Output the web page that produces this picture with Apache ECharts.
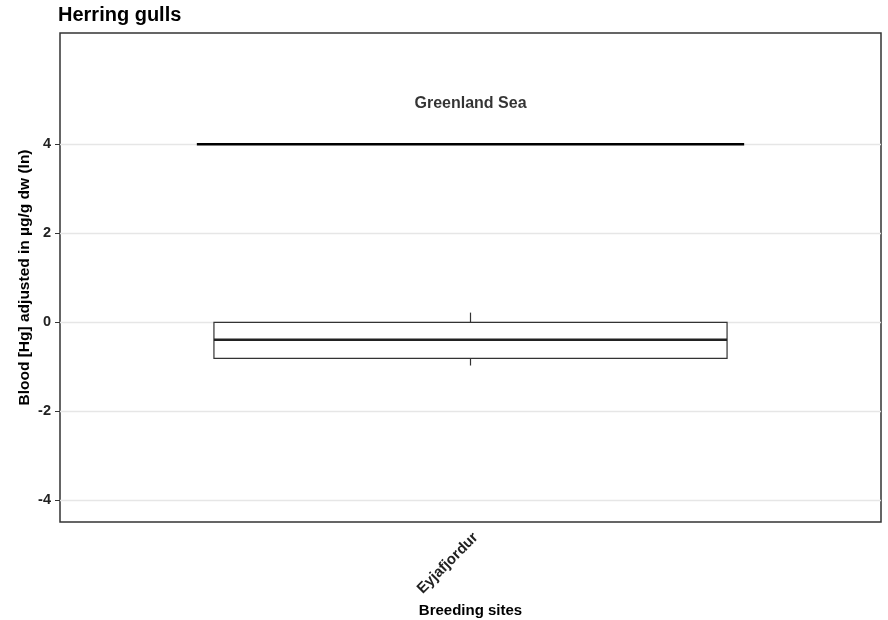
<!DOCTYPE html>
<html><head><meta charset="utf-8">
<script src="https://cdn.jsdelivr.net/npm/echarts@6/dist/echarts.min.js"></script>
<style>html,body{margin:0;padding:0;background:#fff}#c{width:888px;height:620px}</style>
</head><body><div id="c"></div>
<script>
// ---- data ----
const categories = ['Eyjafjordur'];
// per category: [lower whisker, Q1, median, Q3, upper whisker]
const boxMin = [-0.98];
const boxQ1 = [-0.82];
const boxMedian = [-0.40];
const boxQ3 = [-0.01];
const boxMax = [0.21];
const yTicks = [-4, -2, 0, 2, 4];
const refLineY = 4;
const refLineX = [0.6, 1.4];
const annotationText = 'Greenland Sea';
const annotationPos = [1, 4.92];

const FONT = '"Liberation Sans", Arial, Helvetica, sans-serif';
const boxData = categories.map((c, i) => [i + 1, boxMin[i], boxQ1[i], boxMedian[i], boxQ3[i], boxMax[i]]);

const chart = echarts.init(document.getElementById('c'), null, {renderer: 'canvas'});
chart.setOption({
  backgroundColor: '#fff',
  animation: false,
  title: {
    text: 'Herring gulls', left: 53, top: 0,
    textStyle: {fontFamily: FONT, fontSize: 20, fontWeight: 'bold', color: '#000'}
  },
  grid: {left: 60, right: 7, top: 33, bottom: 98, outerBoundsMode: 'none', containLabel: false,
         show: true, borderColor: '#333', borderWidth: 1.5, backgroundColor: '#fff'},
  xAxis: {
    type: 'value', min: 0.4, max: 1.6,
    name: 'Breeding sites', nameLocation: 'middle', nameGap: 81,
    nameTextStyle: {fontFamily: FONT, fontSize: 15, fontWeight: 'bold', color: '#000'},
    axisLine: {show: false},
    axisTick: {show: true, length: 5, lineStyle: {color: '#333'}, customValues: categories.map((c, i) => i + 1)},
    axisLabel: {
      customValues: categories.map((c, i) => i + 1),
      formatter: v => categories[Math.round(v) - 1] || '',
      rotate: 45, margin: 8, verticalAlign: 'top',
      fontFamily: FONT, fontSize: 15, fontWeight: 'bold', color: '#222'
    },
    splitLine: {show: false}
  },
  yAxis: {
    type: 'value', min: -4.5, max: 6.5,
    name: 'Blood [Hg] adjusted in µg/g dw (ln)', nameLocation: 'middle', nameGap: 27, nameRotate: 90,
    nameMoveOverlap: false,
    nameTextStyle: {fontFamily: FONT, fontSize: 15.5, fontWeight: 'bold', color: '#000'},
    axisLine: {show: false},
    axisTick: {show: true, length: 5, lineStyle: {color: '#333'}, customValues: yTicks},
    axisLabel: {customValues: yTicks, margin: 9, fontFamily: FONT, fontSize: 14.5, fontWeight: 'bold', color: '#222'},
    splitLine: {show: true, lineStyle: {color: '#e6e6e6', width: 1.3}}
  },
  series: [
    {
      type: 'custom',
      data: boxData,
      encode: {x: 0, y: [1, 2, 3, 4, 5]},
      silent: true,
      renderItem: function (params, api) {
        const x = api.value(0);
        const lo = api.value(1), q1 = api.value(2), med = api.value(3), q3 = api.value(4), hi = api.value(5);
        const half = 0.375;
        const tl = api.coord([x - half, q3]);
        const br = api.coord([x + half, q1]);
        const pHi = api.coord([x, hi]), pQ3 = api.coord([x, q3]), pQ1 = api.coord([x, q1]), pLo = api.coord([x, lo]);
        const pMed = api.coord([x, med]);
        const s = {stroke: '#333', lineWidth: 1.2};
        return {
          type: 'group',
          children: [
            {type: 'line', shape: {x1: pHi[0], y1: pHi[1], x2: pQ3[0], y2: pQ3[1]}, style: s},
            {type: 'line', shape: {x1: pLo[0], y1: pLo[1], x2: pQ1[0], y2: pQ1[1]}, style: s},
            {type: 'rect', shape: {x: tl[0], y: tl[1], width: br[0] - tl[0], height: br[1] - tl[1]}, style: {fill: '#fff', stroke: '#333', lineWidth: 1.2}},
            {type: 'line', shape: {x1: tl[0], y1: pMed[1], x2: br[0], y2: pMed[1]}, style: {stroke: '#222', lineWidth: 2.4}}
          ]
        };
      }
    },
    {
      type: 'line',
      data: refLineX.map(x => [x, refLineY]),
      symbol: 'none', silent: true,
      lineStyle: {color: '#000', width: 2.5}
    },
    {
      type: 'scatter',
      data: [annotationPos],
      symbolSize: 1, silent: true,
      itemStyle: {color: 'transparent'},
      label: {
        show: true, position: 'inside', formatter: annotationText,
        fontFamily: FONT, fontSize: 16, fontWeight: 'bold', color: '#000'
      }
    }
  ]
});
</script>
</body></html>
